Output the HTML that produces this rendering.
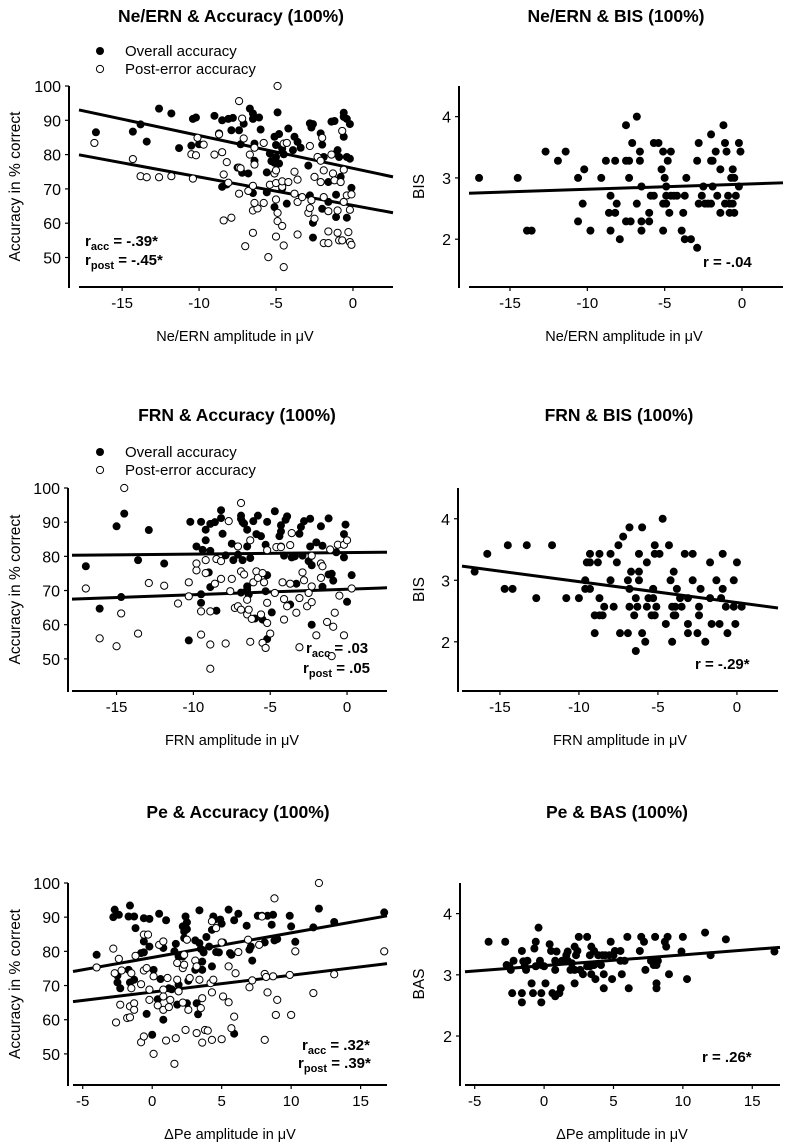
<!DOCTYPE html>
<html><head><meta charset="utf-8"><style>
html,body{margin:0;padding:0;background:#fff;}
svg{display:block;font-family:"Liberation Sans",Arial,sans-serif;}
</style></head><body>
<svg id="fig" width="787" height="1146" viewBox="0 0 787 1146"></svg>
<script>
// ---------- DATA ----------
const xTicksNeg = [-15,-10,-5,0];
const xTicksPe = [-5,0,5,10,15];
const yTicksAcc = [50,60,70,80,90,100];
const yTicksScale = [2,3,4];

const p1Acc = [[-16.7,86.5],[-14.3,86.7],[-13.8,88.8],[-13.4,83.8],[-12.6,93.4],[-11.8,92],[-11.3,81.9],[-10.5,82.6],[-10.4,90.4],[-10.2,90.8],[-10,83],[-9,91.3],[-8.7,86.2],[-8.5,90],[-8.1,90.4],[-7.8,90.7],[-7.9,87.1],[-7.4,87.1],[-8.5,70.6],[-8.2,71.3],[-7.5,76.2],[-7.3,83],[-7.2,74.7],[-6.8,74.5],[-6.7,93.4],[-7.1,89],[-6.5,90.4],[-6.5,92],[-6.4,83.2],[-6.4,78.2],[-6.1,90.8],[-6,87.3],[-6.5,68.8],[-5.6,69],[-5.6,74.8],[-5.4,80.3],[-5.3,78.1],[-5.1,85.2],[-5,82.8],[-4.9,92.3],[-4.8,86],[-5.1,77.6],[-5,79.3],[-4.8,77.4],[-4.6,81.7],[-4.5,80.1],[-4.6,70.1],[-5.1,64.7],[-4.3,65.7],[-4.2,87.6],[-3.9,81.3],[-3.8,85.2],[-3.6,83.7],[-3.4,82],[-2.9,76.8],[-2.8,68.1],[-2.8,89.1],[-2.6,88.9],[-2.7,87.9],[-2.6,60.1],[-2.6,55.8],[-2.1,86.2],[-2,82.9],[-1.9,79.3],[-2,64.2],[-1.6,72],[-1.6,66.2],[-1.4,89.6],[-1.2,89.8],[-1.1,80.3],[-1,81.3],[-0.9,79.3],[-0.8,73.5],[-1.1,68.3],[-1.1,61.8],[-0.6,92.2],[-0.6,91],[-0.6,85.2],[-0.4,79.3],[-0.4,90.4],[-0.2,78.8],[-0.2,88.9],[-0.1,70.3],[-0.4,61.6]];
const p1Post = [[-16.8,83.4],[-14.3,78.7],[-13.8,73.7],[-13.4,73.4],[-12.6,73.4],[-11.8,73.7],[-10.4,73],[-10.5,80.1],[-10.2,79.8],[-10.1,84.9],[-9.7,82.9],[-9,80],[-8.5,80.7],[-8.7,85.9],[-8.4,74.2],[-8.4,60.8],[-8.2,77.8],[-7.9,61.6],[-8.1,71.8],[-7.4,95.6],[-7.2,90.5],[-7.4,76.2],[-7.4,68.6],[-7.1,84.7],[-7.3,76],[-6.8,69.4],[-6.7,80],[-7,53.3],[-6.5,70.9],[-6.5,63.7],[-6.5,57.2],[-6.4,82],[-6.4,77.1],[-6.2,64.3],[-6.4,65.9],[-5.8,83.4],[-5.8,65.9],[-5.5,50.1],[-5.4,71.2],[-5.1,74.5],[-5,75.4],[-5,71.7],[-5,66.9],[-4.9,60.6],[-5,56.1],[-4.9,100],[-4.9,63],[-4.6,70.6],[-4.6,72.2],[-4.6,59.2],[-4.5,83.2],[-4.3,83.4],[-4.5,53.5],[-4.5,47.2],[-4.2,72],[-3.8,68.6],[-3.8,75],[-3.6,66.2],[-3.6,72.7],[-3.6,56.7],[-3.3,67.6],[-2.9,63],[-2.8,64.4],[-2.8,82.5],[-2.5,73.5],[-2.7,66.7],[-2.5,61.3],[-2.3,79.3],[-2.1,78.2],[-2,84.9],[-2.1,72],[-1.9,75.4],[-1.9,67.6],[-1.9,54.2],[-1.6,54.2],[-1.6,63.5],[-1.6,57.6],[-1.4,80],[-1.3,74.5],[-1.2,72.5],[-1,63.7],[-1,57.2],[-0.9,55],[-0.7,55],[-0.8,72],[-0.6,66.2],[-0.7,86.9],[-0.6,75.6],[-0.4,68.1],[-0.3,57.4],[-0.2,54.5],[-0.2,63.9],[-0.1,68.4],[-0.1,53.7]];
const p1FitAcc = [76.0,-0.956];   // [intercept, slope]
const p1FitPost = [65.2,-0.828];

const p2Bis = [[-17,3.0],[-14.5,3.0],[-13.9,2.14],[-13.6,2.14],[-12.7,3.43],[-11.9,3.28],[-11.4,3.43],[-10.6,2.29],[-10.6,3.0],[-10.3,2.58],[-10.2,3.14],[-9.8,2.14],[-9.1,3.0],[-8.8,3.28],[-8.5,2.71],[-8.6,2.43],[-8.5,2.14],[-8.2,3.28],[-8.2,2.43],[-8.1,2.58],[-7.9,2.0],[-7.5,3.86],[-7.5,3.28],[-7.3,3.28],[-7.3,3.0],[-7.5,2.29],[-7.2,2.29],[-7.1,3.57],[-6.8,4.0],[-6.8,2.58],[-6.6,3.43],[-6.6,3.28],[-6.5,2.86],[-6.5,2.29],[-6.5,2.14],[-6,2.29],[-6,2.43],[-5.9,2.71],[-5.7,2.71],[-5.7,3.57],[-5.4,3.57],[-5.2,3.14],[-5.1,2.58],[-5.1,2.14],[-5.1,3.43],[-5,3.0],[-4.9,2.71],[-4.9,2.86],[-4.9,2.58],[-4.8,3.28],[-4.7,2.43],[-4.6,3.43],[-4.6,2.71],[-4.4,2.71],[-4.2,2.71],[-3.9,2.14],[-3.8,2.43],[-3.7,2.71],[-3.6,3.0],[-3.7,2.0],[-3.3,2.0],[-2.9,1.86],[-2.9,3.28],[-2.8,3.57],[-2.8,2.58],[-2.5,2.86],[-2.6,2.71],[-2.4,2.58],[-2.2,2.58],[-2,2.58],[-2,3.71],[-2,3.28],[-1.9,3.28],[-1.9,2.86],[-1.7,3.43],[-1.6,2.71],[-1.4,2.43],[-1.4,3.14],[-1.2,3.86],[-1.1,3.57],[-1,3.43],[-1.1,2.58],[-0.9,2.71],[-0.8,2.58],[-0.8,2.43],[-0.7,3.0],[-0.6,3.14],[-0.6,2.58],[-0.5,2.43],[-0.5,3.0],[-0.4,2.71],[-0.2,3.57],[-0.2,2.86],[-0.1,3.43]];
const p2Fit = [2.898,0.00837];

const p3Acc = [[-17,77.1],[-16.1,64.7],[-15,88.8],[-14.5,92.5],[-14.7,68.1],[-13.6,78.9],[-12.9,87.7],[-11.9,77.9],[-10.2,90.1],[-10.3,55.4],[-9.8,82.9],[-9.5,90.1],[-9.4,81.9],[-9.5,68.9],[-9.5,66.4],[-9.2,87.8],[-9.2,84.7],[-9,75.3],[-8.9,89.5],[-8.9,81.6],[-8.9,71],[-8.6,90],[-8.5,64.1],[-8.2,93.5],[-8.2,91.2],[-8.1,86.6],[-7.9,80.3],[-7.5,83.7],[-7.4,78.9],[-7.1,80.5],[-6.9,91.9],[-6.9,91],[-6.8,90],[-6.9,69.4],[-6.8,78.9],[-6.7,89.6],[-6.5,87.8],[-6.5,82.9],[-6.5,70.3],[-6.5,71.2],[-6.3,79.5],[-6.4,68.8],[-6.1,90.3],[-5.8,91.9],[-5.9,86.5],[-5.6,85.9],[-6,61.8],[-5.5,61.5],[-5.2,90.1],[-5.3,83.4],[-5.2,74.5],[-5.3,69.8],[-5.2,55.8],[-4.9,63.6],[-4.7,93.2],[-4.4,85.9],[-4.3,89.1],[-4.3,82.9],[-4.3,87.3],[-4,90.7],[-3.9,91.7],[-4.1,80.2],[-3.6,79.7],[-3.7,65.9],[-3.4,80],[-3.3,72],[-3.1,86.6],[-3,88.6],[-2.9,80.2],[-2.8,90.3],[-2.4,91],[-2.5,78.6],[-2.4,82.9],[-2.3,77.4],[-2.3,60],[-2,84.1],[-1.7,88.8],[-1.6,83.1],[-1.6,71.1],[-1.2,91.1],[-1.2,74.7],[-1,74.9],[-0.9,72.9],[-0.7,81.2],[-0.1,89.3],[-0.2,86.5],[-0.2,79.7],[0,66.7],[0.3,74.5]];
const p3Post = [[-17,70.6],[-16.1,56],[-15,53.7],[-14.7,63.3],[-14.5,100],[-13.6,57.4],[-12.9,72.2],[-11.9,71.4],[-11,66.2],[-10.3,72.4],[-10.3,68.3],[-9.8,75.9],[-9.8,77.9],[-9.5,63.9],[-9.5,57.1],[-9.2,78.9],[-9.2,75.1],[-8.9,54.2],[-8.9,63.9],[-8.9,47.1],[-8.6,72],[-8.5,79.2],[-8.2,78.6],[-8.2,73.4],[-7.9,54.5],[-7.7,90.3],[-7.6,69.8],[-7.5,73.4],[-7.3,64.9],[-7.1,65.4],[-6.9,95.6],[-7.1,82.9],[-6.9,75.6],[-6.9,64.4],[-6.7,74.7],[-6.5,63],[-6.5,67.3],[-6.4,64.4],[-6.3,84.7],[-6.3,55],[-6.2,61.7],[-6.1,72.4],[-5.9,75.6],[-5.8,73.7],[-5.6,63],[-5.5,75.1],[-5.4,72.4],[-5.5,54.7],[-5.3,53.2],[-5.2,66.4],[-5.2,60.5],[-5,57.4],[-5.2,81.8],[-4.7,69.3],[-4.6,82.7],[-4.2,72.4],[-4.1,67.5],[-4.1,61.5],[-4.3,82.7],[-3.9,65.4],[-3.7,72],[-3.7,83.3],[-3.6,86.8],[-3.3,63.5],[-3.1,67.8],[-3.1,53.4],[-2.9,75.3],[-2.8,73],[-2.6,65.4],[-2.5,69.3],[-2.3,66.6],[-2.3,71.2],[-2.3,80.2],[-2,56.9],[-1.7,77.9],[-1.7,73.7],[-1.6,77.1],[-1.3,60.8],[-1.1,82],[-1,50.8],[-0.9,59.4],[-0.8,63.5],[-0.6,83.4],[-0.5,68.5],[-0.2,56.9],[-0.2,83.4],[0,84.7],[0.3,70.6]];
const p3FitAcc = [81.09,0.0439];
const p3FitPost = [70.38,0.161];

const p4Bis = [[-16.6,3.14],[-15.8,3.43],[-14.7,2.86],[-14.5,3.57],[-14.2,2.86],[-13.3,3.57],[-12.7,2.71],[-11.7,3.57],[-10.8,2.71],[-10,2.71],[-9.6,3.0],[-9.6,2.86],[-9.5,3.29],[-9.3,3.29],[-9.3,3.43],[-9.3,2.86],[-9,2.43],[-9,2.14],[-8.8,3.29],[-8.7,2.71],[-8.7,2.43],[-8.7,3.43],[-8.5,2.43],[-8.4,2.57],[-8,3.43],[-8,3.0],[-7.8,2.57],[-7.6,3.29],[-7.5,3.57],[-7.4,2.14],[-7.2,3.71],[-6.9,3.0],[-6.9,2.14],[-6.8,3.86],[-6.8,2.86],[-6.8,2.57],[-6.7,3.14],[-6.5,2.43],[-6.4,1.85],[-6.4,2.71],[-6.3,2.57],[-6.2,3.43],[-6.2,3.14],[-6.2,3.0],[-6,3.86],[-6,2.14],[-5.8,2.0],[-5.7,2.57],[-5.7,3.29],[-5.6,2.71],[-5.4,2.43],[-5.3,2.86],[-5.3,2.71],[-5.2,3.57],[-5.2,3.43],[-5.2,2.43],[-5.1,2.57],[-4.9,3.43],[-4.7,4.0],[-4.5,2.29],[-4.3,3.57],[-4.2,3.0],[-4.1,2.57],[-4.1,2.0],[-4,2.43],[-4,3.14],[-3.9,2.57],[-3.9,2.43],[-3.8,2.86],[-3.6,2.71],[-3.5,2.57],[-3.3,3.43],[-3.1,2.29],[-3.1,2.71],[-3.1,2.14],[-2.8,3.43],[-2.8,3.0],[-2.5,2.14],[-2.4,2.57],[-2.4,2.43],[-2.3,2.86],[-2,2.0],[-1.7,2.71],[-1.7,3.29],[-1.6,2.29],[-1.3,3.0],[-1.1,2.29],[-1,2.71],[-0.9,2.86],[-0.9,3.43],[-0.7,2.57],[-0.6,2.14],[-0.2,3.0],[-0.1,2.29],[-0.2,2.57],[0,3.29],[0.3,2.57]];
const p4Fit = [2.638,-0.034];

const p5Acc = [[-4,79],[-2.7,92.2],[-2.8,90],[-2.5,72.9],[-2.4,90.7],[-2.5,70.9],[-2.3,69.2],[-1.7,74.6],[-1.7,90.2],[-1.6,93.4],[-1.6,70.9],[-1.3,90.2],[-1.2,86.8],[-1.3,71.7],[-0.8,79.5],[-0.6,79.7],[-0.6,89.7],[-0.6,82.9],[-0.2,81.4],[-0.2,89.5],[-0.4,61.7],[0,55.6],[0.1,74.6],[0.4,66],[0.5,91],[0.6,71.9],[0.8,60],[0.8,81],[1,89.1],[1.2,69.2],[1.4,68.9],[1.6,80],[1.7,82.2],[1.8,64.4],[1.9,78.5],[1.9,70.2],[2.2,78.5],[2.2,87.3],[2.3,85.8],[2.4,90.2],[2.5,88.5],[2.5,86.5],[2.3,83.9],[2.5,64.8],[2.6,71.4],[3.1,74.6],[3.1,83.2],[3.2,64.8],[3.3,61.6],[3.4,82.4],[3.4,92],[3.5,80.7],[3.6,77],[3.6,74.6],[3.7,79.7],[3.9,84.2],[4.1,81.4],[4.3,86.3],[4.3,75.6],[4.4,90.2],[4.5,89.3],[4.6,79.8],[4.8,79.7],[4.9,89.3],[5,88.1],[5.1,82.6],[5.5,92.2],[5.6,79.5],[5.7,79],[5.9,89.1],[5.9,55.9],[6.2,91],[6.8,87.5],[7,80.5],[7.1,81.4],[7.2,77.3],[7.6,90.4],[7.9,90.4],[8.1,82.6],[8.3,90.4],[8.6,87.8],[8.7,90.7],[8.8,83.2],[9,83.6],[9.9,90.4],[10,87.3],[10.3,82.8],[11.6,87],[12,92.5],[13.1,88.6],[16.7,91.4]];
const p5Post = [[-4,75.3],[-2.8,80.8],[-2.7,73.6],[-2.6,59.2],[-2.4,77.8],[-2.3,64.4],[-2.2,74.4],[-1.8,60.5],[-1.6,63.9],[-1.6,60.7],[-1.5,73.6],[-1.5,69.2],[-1.3,64.8],[-1.3,62.9],[-1.2,78.7],[-0.8,70.4],[-0.8,53.4],[-0.6,55.1],[-0.6,84.9],[-0.6,74.4],[-0.4,75.1],[-0.3,84.9],[-0.2,68.8],[-0.2,65.8],[0.1,50],[0.1,72.7],[0.4,64.2],[0.5,81.9],[0.8,68.8],[0.8,62.9],[0.8,82.9],[0.8,66.8],[1,53.9],[1.1,72.2],[1.2,63.7],[1.3,65.8],[1.6,47.1],[1.7,54.6],[1.8,76.6],[1.8,71.7],[1.9,68.3],[2.2,75.1],[2.2,65],[2.3,76.1],[2.3,79],[2.4,57],[2.5,83.4],[2.6,62.9],[2.7,72.2],[3.1,77.3],[3.2,56.1],[3.2,75.6],[3.4,71.7],[3.5,63.4],[3.6,53.3],[3.6,66.3],[3.8,57],[4,56.8],[4.2,70.7],[4.3,88.8],[4.3,68],[4.3,54.1],[4.4,71.7],[4.6,86.8],[5,54.3],[5,82.6],[5.1,66.8],[5.5,65.1],[5.5,75.6],[5.7,57.5],[5.9,60.9],[6,73.6],[6.2,79.8],[6.9,83.4],[7,69.5],[7.2,71.5],[7.7,81.9],[7.9,90.2],[8.1,54.1],[8.1,73.4],[8.2,72.5],[8.3,68],[8.8,95.5],[8.7,72.7],[8.9,61.4],[9,65.8],[9.9,73.1],[10,61.4],[10.3,80],[11.6,67.8],[12,100],[13.1,73.3],[16.7,80]];
const p5FitAcc = [78.21,0.721];
const p5FitPost = [68.1,0.491];

const p6Bas = [[-4,3.54],[-2.8,3.54],[-2.7,3.16],[-2.5,3.14],[-2.4,3.08],[-2.3,2.7],[-2.2,3.23],[-1.6,2.7],[-1.6,2.55],[-1.6,3.39],[-1.5,3.22],[-1.4,3.14],[-1.3,3.08],[-1.2,3.23],[-0.9,2.86],[-0.8,2.7],[-0.7,3.43],[-0.6,3.54],[-0.6,3.14],[-0.4,3.77],[-0.3,3.23],[-0.2,2.7],[-0.2,2.55],[-0.2,3.16],[0,3.14],[0.1,2.86],[0.4,3.5],[0.5,3.39],[0.6,2.7],[0.8,2.65],[0.8,3.23],[0.8,3.08],[0.9,3.38],[1.1,2.7],[1.2,2.78],[1.3,3.23],[1.4,3.23],[1.6,3.32],[1.7,3.38],[1.7,3.23],[1.9,3.08],[2,3.19],[2.2,2.86],[2.2,3.08],[2.2,3.46],[2.3,3.32],[2.4,3.39],[2.5,3.62],[2.6,3.08],[2.8,3.01],[3.1,3.62],[3.1,3.14],[3.3,3.32],[3.3,3.14],[3.4,3.01],[3.4,3.46],[3.5,3.16],[3.6,3.39],[3.6,3.16],[3.7,2.93],[3.9,3.32],[4.1,3.16],[4.2,3.32],[4.3,3.01],[4.3,2.78],[4.4,3.32],[4.7,3.32],[4.8,3.54],[4.9,2.93],[5,3.32],[5.1,3.39],[5.5,3.39],[5.5,3.23],[5.6,3.01],[5.8,3.23],[6,3.62],[6.1,2.78],[6.9,3.39],[7,3.62],[7.2,3.54],[7.3,3.08],[7.7,3.23],[7.9,3.16],[8,3.62],[8.1,3.16],[8.1,3.23],[8.1,2.86],[8.1,2.78],[8.2,3.23],[8.7,3.54],[8.8,3.46],[8.9,3.62],[9,3.01],[9.9,3.38],[10,3.62],[10.3,2.93],[11.6,3.69],[12,3.32],[13.1,3.58],[16.6,3.38]];
const p6Fit = [3.15,0.0176];

// ---------- DRAWING ----------
const NS = 'http://www.w3.org/2000/svg';
const svg = document.getElementById('fig');
function mk(tag, attrs, parent) {
  const e = document.createElementNS(NS, tag);
  for (const k in attrs) e.setAttribute(k, attrs[k]);
  (parent || svg).appendChild(e);
  return e;
}

function panel(cfg) {
  const g = mk('g', {});
  
  
  const sx = v => cfg.left + (v - cfg.xMin) / (cfg.xMax - cfg.xMin) * (cfg.right - cfg.left);
  const sy = v => cfg.bottom - (v - cfg.yMin) / (cfg.yMax - cfg.yMin) * (cfg.bottom - cfg.top);

  const title = mk('text', {x: cfg.titleX, y: cfg.top - cfg.titleOff, 'text-anchor': 'middle', 'font-size': 17.5, 'font-weight': 'bold'}, g);
  title.textContent = cfg.title;
  
  

  const ya = mk('line', {x1: cfg.yAxisX, x2: cfg.yAxisX, y1: cfg.top, y2: cfg.bottom + 1, stroke: '#000', 'stroke-width': 2}, g);
  
  
  const xa = mk('line', {x1: cfg.left, x2: cfg.right, y1: cfg.bottom, y2: cfg.bottom, stroke: '#000', 'stroke-width': 2}, g);
  
  

  cfg.xTicks.forEach(t => {
    const tk = mk('line', {x1: sx(t), x2: sx(t), y1: cfg.bottom, y2: cfg.bottom + 4, stroke: '#000', 'stroke-width': 1.2}, g);
    
    
    const lb = mk('text', {x: sx(t), y: cfg.bottom + 21, 'text-anchor': 'middle', 'font-size': 15}, g);
    lb.textContent = String(t);
    
    
  });
  cfg.yTicks.forEach(t => {
    const tk = mk('line', {x1: cfg.yAxisX - 4, x2: cfg.yAxisX, y1: sy(t), y2: sy(t), stroke: '#000', 'stroke-width': 1.2}, g);
    
    
    const lb = mk('text', {x: cfg.yAxisX - 8, y: sy(t) + 6, 'text-anchor': 'end', 'font-size': 16}, g);
    lb.textContent = String(t);
    
    
  });

  const xt = mk('text', {x: cfg.xTitleX, y: cfg.bottom + 54, 'text-anchor': 'middle', 'font-size': 14.5}, g);
  xt.textContent = cfg.xTitle;
  
  
  const ycy = (cfg.top + cfg.bottom) / 2;
  const yt = mk('text', {x: cfg.yTitleX, y: ycy, 'text-anchor': 'middle', 'font-size': 15.5, transform: 'rotate(-90 ' + cfg.yTitleX + ' ' + ycy + ')'}, g);
  yt.textContent = cfg.yTitle;
  
  

  cfg.fits.forEach(f => {
    const ln = mk('line', {x1: sx(cfg.xMin), y1: sy(f[0] + f[1] * cfg.xMin), x2: sx(cfg.xMax), y2: sy(f[0] + f[1] * cfg.xMax), stroke: '#000', 'stroke-width': 3}, g);
    
    
  });

  cfg.filled.forEach(p => {
    const c = mk('circle', {cx: sx(p[0]), cy: sy(p[1]), r: 4, fill: '#000'}, g);
    
    
  });
  (cfg.open || []).forEach(p => {
    const c = mk('circle', {cx: sx(p[0]), cy: sy(p[1]), r: 3.6, fill: '#fff', stroke: '#000', 'stroke-width': 1}, g);
    
    
  });

  cfg.notes.forEach(n => {
    const t = mk('text', {x: n.x, y: n.y, 'font-size': 15, 'font-weight': 'bold'}, g);
    
    
    if (n.sub) {
      const a = mk('tspan', {}, t); a.textContent = 'r';
      const b = mk('tspan', {dy: 4, 'font-size': 11}, t); b.textContent = n.sub;
      const c = mk('tspan', {dy: -4}, t); c.textContent = n.text;
    } else t.textContent = n.text;
  });

  if (cfg.legendY) {
    const lg = mk('g', {}, g);
    
    
    const c1 = mk('circle', {cx: 100, cy: cfg.legendY, r: 4, fill: '#000'}, lg);
    
    
    const t1 = mk('text', {x: 125, y: cfg.legendY + 5, 'font-size': 15}, lg);
    t1.textContent = 'Overall accuracy';
    
    
    const c2 = mk('circle', {cx: 100, cy: cfg.legendY + 18, r: 3.6, fill: '#fff', stroke: '#000', 'stroke-width': 1}, lg);
    
    
    const t2 = mk('text', {x: 125, y: cfg.legendY + 23, 'font-size': 15}, lg);
    t2.textContent = 'Post-error accuracy';
    
    
  }
}

const accY = 'Accuracy in % correct';
panel({name:'panel-ne-ern-accuracy', title:'Ne/ERN & Accuracy (100%)', titleX:231, titleOff:64,
  left:79, right:393, top:86, bottom:287, yAxisX:69, xMin:-17.8, xMax:2.6, yMin:41.4, yMax:100,
  xTicks:xTicksNeg, yTicks:yTicksAcc, xTitle:'Ne/ERN amplitude in \u03bcV', xTitleX:235, yTitle:accY, yTitleX:20,
  fits:[p1FitAcc,p1FitPost], filled:p1Acc, open:p1Post, legendY:51,
  notes:[{x:85,y:246,sub:'acc',text:' = -.39*'},{x:85,y:265,sub:'post',text:' = -.45*'}]});
panel({name:'panel-ne-ern-bis', title:'Ne/ERN & BIS (100%)', titleX:616, titleOff:64,
  left:469, right:783, top:86, bottom:287, yAxisX:459, xMin:-17.65, xMax:2.65, yMin:1.22, yMax:4.5,
  xTicks:xTicksNeg, yTicks:yTicksScale, xTitle:'Ne/ERN amplitude in \u03bcV', xTitleX:624, yTitle:'BIS', yTitleX:424,
  fits:[p2Fit], filled:p2Bis, notes:[{x:703,y:267,text:'r = -.04'}]});
panel({name:'panel-frn-accuracy', title:'FRN & Accuracy (100%)', titleX:237, titleOff:67,
  left:72, right:387, top:488, bottom:691, yAxisX:68, xMin:-17.9, xMax:2.6, yMin:40.6, yMax:100,
  xTicks:xTicksNeg, yTicks:yTicksAcc, xTitle:'FRN amplitude in \u03bcV', xTitleX:232, yTitle:accY, yTitleX:20,
  fits:[p3FitAcc,p3FitPost], filled:p3Acc, open:p3Post, legendY:452,
  notes:[{x:306,y:653,sub:'acc',text:' = .03'},{x:303,y:673,sub:'post',text:' = .05'}]});
panel({name:'panel-frn-bis', title:'FRN & BIS (100%)', titleX:619, titleOff:67,
  left:462, right:778, top:488, bottom:691, yAxisX:458, xMin:-17.4, xMax:2.6, yMin:1.2, yMax:4.5,
  xTicks:xTicksNeg, yTicks:yTicksScale, xTitle:'FRN amplitude in \u03bcV', xTitleX:620, yTitle:'BIS', yTitleX:424,
  fits:[p4Fit], filled:p4Bis, notes:[{x:695,y:669,text:'r = -.29*'}]});
panel({name:'panel-pe-accuracy', title:'Pe & Accuracy (100%)', titleX:238, titleOff:65,
  left:73, right:387, top:883, bottom:1085, yAxisX:68, xMin:-5.7, xMax:16.9, yMin:40.9, yMax:100,
  xTicks:xTicksPe, yTicks:yTicksAcc, xTitle:'\u0394Pe amplitude in \u03bcV', xTitleX:230, yTitle:accY, yTitleX:20,
  fits:[p5FitAcc,p5FitPost], filled:p5Acc, open:p5Post,
  notes:[{x:302,y:1050,sub:'acc',text:' = .32*'},{x:298,y:1068,sub:'post',text:' = .39*'}]});
panel({name:'panel-pe-bas', title:'Pe & BAS (100%)', titleX:617, titleOff:65,
  left:465, right:780, top:883, bottom:1085, yAxisX:460, xMin:-5.7, xMax:17.0, yMin:1.2, yMax:4.5,
  xTicks:xTicksPe, yTicks:yTicksScale, xTitle:'\u0394Pe amplitude in \u03bcV', xTitleX:622, yTitle:'BAS', yTitleX:424,
  fits:[p6Fit], filled:p6Bas, notes:[{x:702,y:1062,text:'r = .26*'}]});
</script>
</body></html>
